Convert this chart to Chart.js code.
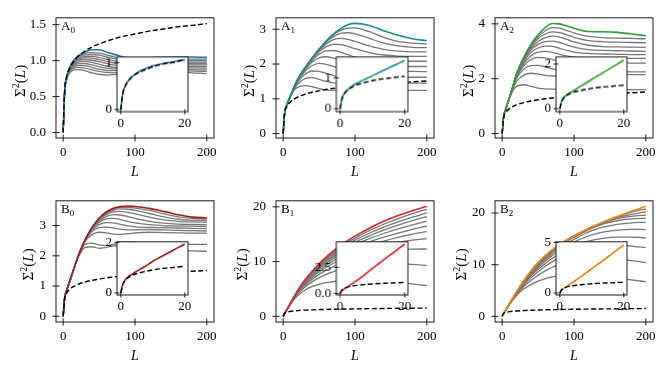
<!DOCTYPE html>
<html><head><meta charset="utf-8">
<script src="https://cdn.jsdelivr.net/npm/chart.js@4.4.0/dist/chart.umd.min.js"></script>
<style>
html,body{margin:0;padding:0;background:#fff;}
body{width:667px;height:371px;position:relative;overflow:hidden;}
canvas{position:absolute;}
</style>
</head><body>
<script>
// ---------------- data ----------------
const L_MAIN  = [0,2,5,10,15,20,30,40,50,60,70,80,90,100,120,140,160,180,200];
const L_INSET = [0,0.5,1,2,3,4,5,6,8,10,12,14,16,18,20];
const X_TICKS_MAIN = [0,100,200];
const X_TICKS_INSET = [0,20];

const DASHED_MAIN  = [0,0.58,0.77,0.91,0.99,1.05,1.13,1.19,1.23,1.27,1.30,1.33,1.35,1.37,1.41,1.44,1.47,1.49,1.515];
const DASHED_INSET = [0,0.30,0.44,0.58,0.66,0.72,0.77,0.80,0.86,0.91,0.95,0.98,1.00,1.03,1.05];

// A0
const A0_MAIN  = [0,.56,.78,.93,1.01,1.06,1.12,1.15,1.15,1.12,1.09,1.06,1.04,1.035,1.04,1.045,1.05,1.05,1.045];
const A0_INSET = [0,.3,.44,.58,.67,.73,.78,.82,.88,.93,.96,.99,1.01,1.04,1.06];
const A0_GRAY = [
 [0,.55,.74,.84,.87,.875,.86,.83,.81,.80,.805,.815,.83,.84,.85,.85,.84,.83,.82],
 [0,.55,.75,.86,.895,.905,.895,.87,.85,.835,.83,.835,.85,.86,.87,.87,.86,.855,.85],
 [0,.55,.76,.87,.915,.93,.93,.905,.88,.865,.86,.86,.87,.88,.89,.89,.885,.875,.87],
 [0,.55,.76,.88,.93,.955,.96,.94,.915,.895,.885,.885,.89,.90,.91,.91,.905,.90,.895],
 [0,.55,.77,.89,.945,.975,.99,.975,.95,.925,.91,.905,.91,.915,.925,.93,.925,.92,.915],
 [0,.55,.77,.90,.96,.995,1.015,1.005,.985,.96,.94,.93,.93,.935,.945,.95,.945,.94,.94],
 [0,.55,.77,.91,.975,1.01,1.04,1.035,1.015,.99,.97,.955,.95,.955,.96,.965,.965,.96,.96],
 [0,.55,.78,.915,.985,1.025,1.06,1.06,1.045,1.02,1.0,.98,.97,.97,.975,.98,.98,.98,.98],
 [0,.56,.78,.92,.995,1.04,1.08,1.085,1.075,1.05,1.03,1.005,.99,.99,.99,.995,1.0,1.0,1.0],
 [0,.56,.78,.925,1.0,1.05,1.10,1.11,1.105,1.08,1.055,1.03,1.015,1.01,1.01,1.015,1.02,1.02,1.02]
];
const A0_YTICKS = [0,0.5,1,1.5];
const A0_YLABELS = ['0.0','0.5','1.0','1.5'];
const A0_IYTICKS = [0,1];
const A0_IYLABELS = ['0','1'];

// A1
const A1_MAIN  = [0,.58,.82,1.08,1.33,1.56,1.88,2.17,2.43,2.67,2.87,3.02,3.13,3.17,3.11,2.96,2.83,2.73,2.67];
const A1_INSET = [0,.3,.44,.58,.68,.76,.82,.87,.97,1.07,1.17,1.27,1.37,1.47,1.57];
const A1_GRAY = [
 [0,.58,.82,1.06,1.24,1.33,1.38,1.35,1.29,1.25,1.24,1.25,1.26,1.27,1.27,1.26,1.25,1.24,1.24],
 [0,.58,.82,1.07,1.28,1.42,1.58,1.61,1.56,1.5,1.46,1.44,1.44,1.45,1.46,1.46,1.45,1.45,1.45],
 [0,.58,.82,1.07,1.30,1.48,1.70,1.80,1.79,1.73,1.67,1.63,1.61,1.61,1.62,1.63,1.63,1.62,1.62],
 [0,.58,.82,1.08,1.31,1.51,1.78,1.95,2.02,1.99,1.93,1.86,1.81,1.79,1.78,1.79,1.79,1.79,1.78],
 [0,.58,.82,1.08,1.32,1.53,1.82,2.05,2.18,2.21,2.17,2.1,2.03,1.98,1.94,1.93,1.93,1.93,1.93],
 [0,.58,.82,1.08,1.32,1.54,1.85,2.1,2.28,2.38,2.39,2.34,2.27,2.2,2.12,2.09,2.08,2.08,2.08],
 [0,.58,.82,1.08,1.33,1.55,1.86,2.13,2.35,2.5,2.57,2.56,2.51,2.44,2.33,2.26,2.23,2.22,2.22],
 [0,.58,.82,1.08,1.33,1.55,1.87,2.15,2.39,2.58,2.7,2.74,2.71,2.65,2.52,2.42,2.37,2.35,2.35],
 [0,.58,.82,1.08,1.33,1.56,1.87,2.16,2.41,2.63,2.79,2.88,2.9,2.87,2.74,2.6,2.52,2.48,2.47],
 [0,.58,.82,1.08,1.33,1.56,1.88,2.17,2.42,2.65,2.84,2.97,3.03,3.04,2.93,2.77,2.65,2.6,2.58]
];
const A1_YTICKS = [0,1,2,3];
const A1_YLABELS = ['0','1','2','3'];
const A1_IYTICKS = [0,1];
const A1_IYLABELS = ['0','1'];

// A2
const A2_MAIN  = [0,.6,.9,1.31,1.74,2.18,2.78,3.25,3.6,3.86,4.01,4.0,3.92,3.84,3.72,3.71,3.69,3.63,3.57];
const A2_INSET = [0,.3,.45,.6,.7,.78,.87,.96,1.13,1.31,1.48,1.66,1.83,2.0,2.18];
const A2_GRAY = [
 [0,.6,.87,1.26,1.56,1.72,1.78,1.72,1.66,1.63,1.62,1.62,1.63,1.63,1.62,1.61,1.6,1.6,1.6],
 [0,.6,.88,1.28,1.64,1.9,2.13,2.2,2.17,2.12,2.1,2.1,2.12,2.14,2.16,2.16,2.15,2.15,2.15],
 [0,.6,.88,1.29,1.68,2.0,2.35,2.48,2.49,2.43,2.36,2.31,2.28,2.27,2.27,2.27,2.26,2.25,2.25],
 [0,.6,.89,1.3,1.7,2.05,2.47,2.7,2.78,2.76,2.7,2.64,2.6,2.58,2.57,2.58,2.58,2.57,2.57],
 [0,.6,.89,1.3,1.71,2.09,2.55,2.84,2.97,3.0,2.96,2.89,2.83,2.79,2.76,2.75,2.75,2.74,2.74],
 [0,.6,.9,1.31,1.72,2.12,2.62,2.95,3.12,3.19,3.18,3.11,3.03,2.97,2.92,2.9,2.89,2.88,2.88],
 [0,.6,.9,1.31,1.73,2.14,2.67,3.04,3.25,3.35,3.37,3.32,3.23,3.15,3.06,3.03,3.02,3.01,3.0],
 [0,.6,.9,1.31,1.73,2.15,2.71,3.11,3.36,3.5,3.55,3.52,3.43,3.34,3.22,3.17,3.16,3.15,3.14],
 [0,.6,.9,1.31,1.74,2.16,2.74,3.17,3.46,3.63,3.71,3.68,3.6,3.51,3.39,3.35,3.33,3.32,3.31],
 [0,.6,.9,1.31,1.74,2.17,2.76,3.21,3.53,3.75,3.86,3.84,3.76,3.67,3.54,3.5,3.48,3.47,3.45]
];
const A2_YTICKS = [0,2,4];
const A2_YLABELS = ['0','2','4'];
const A2_IYTICKS = [0,2];
const A2_IYLABELS = ['0','2'];

// B0
const B0_MAIN  = [0,.6,.86,1.25,1.59,1.93,2.5,2.93,3.25,3.45,3.57,3.63,3.65,3.63,3.57,3.47,3.36,3.28,3.26];
const B0_INSET = [0,.3,.45,.6,.7,.78,.86,.93,1.08,1.25,1.39,1.53,1.66,1.8,1.93];
const B0_GRAY = [
 [0,.6,.86,1.2,1.57,1.9,2.27,2.3,2.25,2.28,2.33,2.35,2.32,2.27,2.2,2.18,2.17,2.16,2.15],
 [0,.6,.86,1.2,1.57,1.92,2.37,2.42,2.36,2.34,2.38,2.43,2.46,2.45,2.4,2.38,2.38,2.38,2.38],
 [0,.6,.86,1.21,1.58,1.93,2.45,2.7,2.78,2.76,2.72,2.71,2.73,2.76,2.78,2.77,2.76,2.75,2.75],
 [0,.6,.86,1.21,1.58,1.93,2.48,2.8,2.93,2.95,2.92,2.88,2.86,2.86,2.87,2.86,2.84,2.83,2.82],
 [0,.6,.86,1.21,1.58,1.93,2.49,2.85,3.03,3.1,3.09,3.04,2.99,2.96,2.94,2.93,2.92,2.91,2.9],
 [0,.6,.86,1.21,1.58,1.93,2.5,2.88,3.1,3.22,3.24,3.2,3.14,3.09,3.03,3.0,2.99,2.98,2.97],
 [0,.6,.86,1.21,1.58,1.93,2.5,2.9,3.15,3.3,3.36,3.35,3.3,3.24,3.14,3.08,3.05,3.04,3.03],
 [0,.6,.86,1.21,1.58,1.93,2.5,2.91,3.19,3.36,3.45,3.47,3.44,3.39,3.28,3.19,3.14,3.12,3.11],
 [0,.6,.86,1.21,1.58,1.93,2.5,2.92,3.21,3.4,3.51,3.55,3.54,3.5,3.4,3.29,3.21,3.18,3.17],
 [0,.6,.86,1.21,1.58,1.93,2.5,2.92,3.23,3.43,3.55,3.6,3.6,3.58,3.5,3.39,3.29,3.24,3.22]
];
const B0_YTICKS = [0,1,2,3];
const B0_YLABELS = ['0','1','2','3'];
const B0_IYTICKS = [0,2];
const B0_IYLABELS = ['0','2'];

// B1
const B1_MAIN  = [0,.55,1.2,2.4,3.55,4.7,6.6,8.2,9.6,10.85,11.95,12.95,13.85,14.65,16.1,17.35,18.4,19.3,20.1];
const B1_INSET = [0,.25,.38,.58,.78,.99,1.2,1.42,1.9,2.4,2.87,3.34,3.8,4.27,4.74];
const B1_GRAY = [
 [0,.55,1.13,2.15,3.02,3.78,4.78,5.42,5.85,6.15,6.36,6.5,6.58,6.62,6.6,6.46,6.22,5.92,5.6],
 [0,.55,1.15,2.22,3.18,4.06,5.33,6.3,7.06,7.68,8.18,8.58,8.9,9.15,9.5,9.66,9.65,9.5,9.3],
 [0,.55,1.16,2.26,3.27,4.21,5.63,6.75,7.67,8.45,9.1,9.66,10.14,10.56,11.25,11.77,12.1,12.27,12.3],
 [0,.55,1.17,2.29,3.33,4.32,5.84,7.06,8.09,8.96,9.7,10.35,10.92,11.42,12.24,12.93,13.51,13.93,14.2],
 [0,.55,1.17,2.31,3.38,4.4,6.0,7.3,8.41,9.36,10.17,10.88,11.5,12.05,12.97,13.74,14.41,15.0,15.5],
 [0,.55,1.18,2.33,3.42,4.47,6.13,7.5,8.67,9.69,10.56,11.33,12.0,12.59,13.6,14.45,15.2,15.88,16.5],
 [0,.55,1.18,2.35,3.45,4.53,6.25,7.67,8.9,9.97,10.9,11.72,12.45,13.09,14.18,15.13,15.97,16.72,17.4],
 [0,.55,1.19,2.37,3.48,4.58,6.35,7.82,9.1,10.22,11.2,12.07,12.84,13.52,14.7,15.73,16.65,17.47,18.2],
 [0,.55,1.19,2.38,3.5,4.62,6.43,7.95,9.28,10.45,11.47,12.38,13.19,13.91,15.18,16.28,17.25,18.12,18.9],
 [0,.55,1.2,2.39,3.53,4.66,6.52,8.08,9.45,10.66,11.72,12.67,13.52,14.28,15.65,16.82,17.85,18.75,19.55]
];
const B1_YTICKS = [0,10,20];
const B1_YLABELS = ['0','10','20'];
const B1_IYTICKS = [0,2.5];
const B1_IYLABELS = ['0.0','2.5'];

// B2
const B2_MAIN  = [0,.6,1.25,2.45,3.6,4.75,6.9,8.8,10.4,11.75,12.9,13.9,14.8,15.6,17.0,18.2,19.3,20.35,21.3];
const B2_INSET = [0,.25,.4,.6,.82,1.04,1.26,1.49,1.94,2.4,2.86,3.32,3.8,4.28,4.76];
const B2_GRAY = [
 [0,.58,1.2,2.25,3.2,4.05,5.3,6.15,6.8,7.3,7.65,7.88,8.0,8.05,7.95,7.7,7.4,7.05,6.7],
 [0,.58,1.21,2.3,3.32,4.25,5.75,6.95,7.95,8.8,9.5,10.05,10.5,10.85,11.25,11.3,11.1,10.8,10.4],
 [0,.59,1.22,2.35,3.4,4.4,6.05,7.45,8.65,9.7,10.6,11.35,12.0,12.55,13.35,13.75,13.8,13.6,13.3],
 [0,.59,1.22,2.37,3.45,4.48,6.25,7.8,9.1,10.25,11.25,12.15,12.9,13.55,14.55,15.1,15.35,15.35,15.2],
 [0,.59,1.23,2.39,3.5,4.55,6.4,8.05,9.45,10.7,11.8,12.75,13.6,14.35,15.55,16.3,16.7,16.85,16.8],
 [0,.6,1.23,2.41,3.53,4.6,6.55,8.25,9.75,11.05,12.2,13.2,14.1,14.9,16.3,17.25,17.8,18.1,18.2],
 [0,.6,1.24,2.42,3.55,4.65,6.65,8.45,10.0,11.35,12.5,13.55,14.5,15.3,16.75,17.85,18.5,18.85,19.0],
 [0,.6,1.24,2.43,3.57,4.68,6.75,8.6,10.15,11.5,12.7,13.75,14.7,15.5,16.9,18.05,18.9,19.35,19.6],
 [0,.6,1.25,2.44,3.58,4.71,6.82,8.7,10.28,11.62,12.8,13.82,14.72,15.52,16.92,18.1,19.1,19.75,20.2],
 [0,.6,1.25,2.45,3.59,4.73,6.87,8.76,10.36,11.7,12.86,13.86,14.76,15.56,16.95,18.12,19.2,20.15,20.8]
];
const B2_YTICKS = [0,10,20];
const B2_YLABELS = ['0','10','20'];
const B2_IYTICKS = [0,5];
const B2_IYLABELS = ['0','5'];

// ---------------- layout / style ----------------
const FONT = '"Liberation Serif", "DejaVu Serif", serif';
const GRAY = '#777777';
const COL_LEFT = [56, 275.5, 495];
const ROW_TOP = [10, 193];
const ROW_BOT = [138, 322.3];
const AX_W = 158;
const INSET_DX = 60.7, INSET_W = 71.6;
const INSET_TOP = [52.3, 236.8];
const INSET_BOT = [111.8, 295.2];

const PANELS = [
 {letter:'A',sub:'0',col:0,row:0,color:'#1f77b4',main:A0_MAIN,gray:A0_GRAY,inset:A0_INSET,yr:[-0.076,1.595],yt:A0_YTICKS,yl:A0_YLABELS,iyr:[-0.047,1.12],iyt:A0_IYTICKS,iyl:A0_IYLABELS,yoff:36},
 {letter:'A',sub:'1',col:1,row:0,color:'#16908f',main:A1_MAIN,gray:A1_GRAY,inset:A1_INSET,yr:[-0.127,3.33],yt:A1_YTICKS,yl:A1_YLABELS,iyr:[-0.1,1.68],iyt:A1_IYTICKS,iyl:A1_IYLABELS,yoff:27},
 {letter:'A',sub:'2',col:2,row:0,color:'#2ca02c',main:A2_MAIN,gray:A2_GRAY,inset:A2_INSET,yr:[-0.16,4.22],yt:A2_YTICKS,yl:A2_YLABELS,iyr:[-0.14,2.32],iyt:A2_IYTICKS,iyl:A2_IYLABELS,yoff:27},
 {letter:'B',sub:'0',col:0,row:1,color:'#a51c1c',main:B0_MAIN,gray:B0_GRAY,inset:B0_INSET,yr:[-0.19,3.82],yt:B0_YTICKS,yl:B0_YLABELS,iyr:[-0.08,2.02],iyt:B0_IYTICKS,iyl:B0_IYLABELS,yoff:28},
 {letter:'B',sub:'1',col:1,row:1,color:'#e3262a',main:B1_MAIN,gray:B1_GRAY,inset:B1_INSET,yr:[-1.03,21.1],yt:B1_YTICKS,yl:B1_YLABELS,iyr:[-0.15,4.95],iyt:B1_IYTICKS,iyl:B1_IYLABELS,yoff:34.5},
 {letter:'B',sub:'2',col:2,row:1,color:'#ff7f0e',main:B2_MAIN,gray:B2_GRAY,inset:B2_INSET,yr:[-1.09,22.36],yt:B2_YTICKS,yl:B2_YLABELS,iyr:[-0.2,5.06],iyt:B2_IYTICKS,iyl:B2_IYLABELS,yoff:34.5}
];

Chart.defaults.font.family = FONT;
Chart.defaults.font.size = 13;
Chart.defaults.color = '#000';

function drawRich(ctx, segs, x, y, rot, align){
  ctx.save();
  ctx.translate(x, y);
  if (rot) ctx.rotate(rot);
  let w = 0;
  segs.forEach(s => { ctx.font = s.f; s.w = ctx.measureText(s.t).width; w += s.w; });
  let cx = align === 'left' ? 0 : -w/2;
  ctx.fillStyle = '#000';
  ctx.textBaseline = 'alphabetic';
  segs.forEach(s => { ctx.font = s.f; ctx.fillText(s.t, cx, s.dy || 0); cx += s.w; });
  ctx.restore();
}

const framePlugin = {
  id: 'frame',
  beforeDraw(chart, args, o) {
    if (o.bg) {
      const a = chart.chartArea, c = chart.ctx;
      c.save(); c.fillStyle = '#fff';
      c.fillRect(a.left, a.top, a.right - a.left, a.bottom - a.top);
      c.restore();
    }
  },
  afterDraw(chart, args, o) {
    const a = chart.chartArea, c = chart.ctx;
    const xs = chart.scales.x, ys = chart.scales.y;
    c.save();
    c.strokeStyle = '#1a1a1a';
    c.lineWidth = 1;
    c.strokeRect(a.left, a.top, a.right - a.left, a.bottom - a.top);
    const t = o.tick;
    c.beginPath();
    xs.ticks.forEach(tk => { const p = xs.getPixelForValue(tk.value); c.moveTo(p, a.bottom - t); c.lineTo(p, a.bottom + t); });
    ys.ticks.forEach(tk => { const p = ys.getPixelForValue(tk.value); c.moveTo(a.left - t, p); c.lineTo(a.left + t, p); });
    c.stroke();
    c.restore();
    if (o.labels) {
      const f = '13px ' + FONT, fs = '9px ' + FONT;
      const fy = '15px ' + FONT, fyi = 'italic 15px ' + FONT, fys = '10px ' + FONT;
      // panel label
      drawRich(c, [{t:o.letter, f:f}, {t:o.sub, f:fs, dy:3.2}], a.left + 5, a.top + 11.8, 0, 'left');
      // x label
      drawRich(c, [{t:'L', f:'italic 14px ' + FONT}], (a.left + a.right)/2, a.bottom + 38, 0);
      // y label
      drawRich(c, [{t:'Σ', f:fy}, {t:'2', f:fys, dy:-6}, {t:'(', f:fy}, {t:'L', f:fyi}, {t:')', f:fy}],
               a.left - o.yoff + 5, (a.top + a.bottom)/2 + 3, -Math.PI/2);
    }
  }
};

function ds(data, color, width, dash, order){
  return {data: data, borderColor: color, borderWidth: width, borderDash: dash || [],
          pointRadius: 0, fill: false, cubicInterpolationMode: 'monotone', order: order};
}

function makeChart(box, area, xr, yr, xt, xl, yt, yl, datasets, opts){
  const cv = document.createElement('canvas');
  cv.width = box.w; cv.height = box.h;
  cv.style.left = box.x + 'px'; cv.style.top = box.y + 'px';
  cv.style.width = box.w + 'px'; cv.style.height = box.h + 'px';
  document.body.appendChild(cv);
  return new Chart(cv.getContext('2d'), {
    type: 'line',
    data: {datasets: datasets.sets},
    options: {
      responsive: false, animation: false, devicePixelRatio: 1,
      layout: {padding: {left: 0, top: area.top - box.y, right: box.x + box.w - area.right, bottom: 0}},
      plugins: {legend: {display: false}, tooltip: {enabled: false},
                frame: opts},
      scales: {
        x: {type: 'linear', min: xr[0], max: xr[1],
            grid: {display: false, drawTicks: false}, border: {display: false},
            afterBuildTicks: s => { s.ticks = xt.map(v => ({value: v})); },
            afterFit: s => { s.height = box.y + box.h - area.bottom; },
            ticks: {padding: opts.xpad, maxRotation: 0, autoSkip: false,
                    callback: (v, i) => xl[i]}},
        y: {type: 'linear', min: yr[0], max: yr[1],
            grid: {display: false, drawTicks: false}, border: {display: false},
            afterBuildTicks: s => { s.ticks = yt.map(v => ({value: v})); },
            afterFit: s => { s.width = area.left - box.x; },
            ticks: {padding: opts.ypad, autoSkip: false,
                    callback: (v, i) => yl[i]}}
      }
    },
    plugins: [framePlugin]
  });
}

function xy(xs, ys){ return xs.map((x, i) => ({x: x, y: ys[i]})); }

// main panels
PANELS.forEach(p => {
  const left = COL_LEFT[p.col], top = ROW_TOP[p.row], bot = ROW_BOT[p.row];
  const area = {left: left, top: top, right: left + AX_W, bottom: bot};
  const box = {x: left - 56, y: top - 10, w: AX_W + 56 + 16, h: (bot - top) + 10 + 50};
  const sets = [];
  sets.push(ds(xy(L_MAIN, DASHED_MAIN), '#000', 1.4, [5, 2.6], 0));
  sets.push(ds(xy(L_MAIN, p.main), p.color, 1.6, null, 1));
  p.gray.forEach(g => sets.push(ds(xy(L_MAIN, g), GRAY, 1.3, null, 2)));
  makeChart(box, area, [-10, 210], p.yr, X_TICKS_MAIN, X_TICKS_MAIN.map(String), p.yt, p.yl,
    {sets: sets}, {tick: 3.5, xpad: 7, ypad: 10, labels: true, letter: p.letter, sub: p.sub, yoff: p.yoff});
});
// insets
PANELS.forEach(p => {
  const left = COL_LEFT[p.col] + INSET_DX, top = INSET_TOP[p.row], bot = INSET_BOT[p.row];
  const area = {left: left, top: top, right: left + INSET_W, bottom: bot};
  const box = {x: left - 34, y: top - 8, w: INSET_W + 34 + 12, h: (bot - top) + 8 + 24};
  const sets = [];
  sets.push(ds(xy(L_INSET, DASHED_INSET), '#000', 1.4, [5, 2.6], 0));
  sets.push(ds(xy(L_INSET, p.inset), p.color, 1.6, null, 1));
  makeChart(box, area, [-1.2, 21], p.iyr, X_TICKS_INSET, X_TICKS_INSET.map(String), p.iyt, p.iyl,
    {sets: sets}, {tick: 2.5, xpad: 4, ypad: 5, labels: false, bg: true});
});
</script>
</body></html>
